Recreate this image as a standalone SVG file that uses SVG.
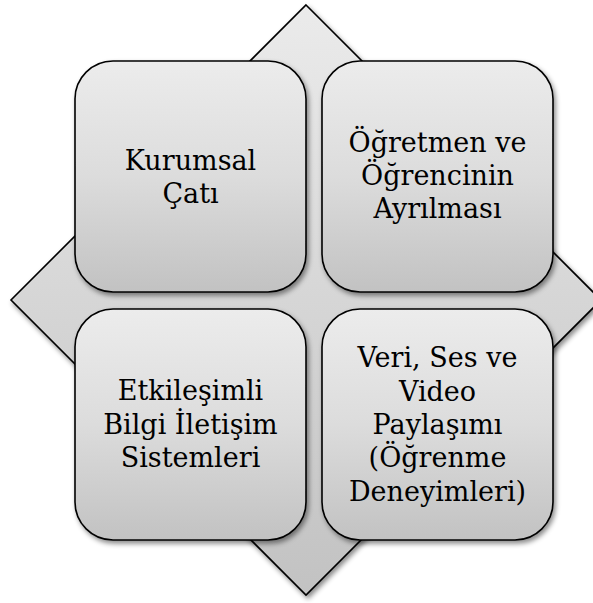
<svg xmlns="http://www.w3.org/2000/svg" width="593" height="603" viewBox="0 0 593 603">
  <defs>
    <linearGradient id="gBox" x1="0" y1="0" x2="0" y2="1">
      <stop offset="0" stop-color="#ececec"/>
      <stop offset="0.5" stop-color="#dcdcdc"/>
      <stop offset="1" stop-color="#c2c2c2"/>
    </linearGradient>
    <linearGradient id="gDia" x1="0" y1="0" x2="0" y2="1">
      <stop offset="0" stop-color="#ebebeb"/>
      <stop offset="0.5" stop-color="#d6d6d6"/>
      <stop offset="1" stop-color="#c2c2c2"/>
    </linearGradient>
    <filter id="shadow" x="-10%" y="-10%" width="125%" height="125%">
      <feDropShadow dx="2" dy="3" stdDeviation="2.5" flood-color="#000" flood-opacity="0.45"/>
    </filter>
  </defs>
  <style>
    .box { fill: url(#gBox); stroke: #000; stroke-width: 1.6; filter: url(#shadow); }
    .dia { fill: url(#gDia); stroke: #000; stroke-width: 1.6; filter: url(#shadow); }
    .lbl { font-family: "DejaVu Serif", "Liberation Serif", serif; font-size: 27px; fill: #000; text-anchor: middle; }
  </style>
  <rect width="593" height="603" fill="#ffffff"/>
  <g id="background">
    <polygon class="dia" points="306,5 601,300 306,595 11,300"/>
  </g>
  <g id="connectors"></g>
  <g id="node-kurumsal">
    <rect class="box" x="75" y="61" width="231" height="231" rx="38" ry="38"/>
    <text class="lbl" x="190.5"><tspan x="190.5" y="169.5">Kurumsal</tspan><tspan x="190.5" y="202.8">Çatı</tspan></text>
  </g>
  <g id="node-ogretmen">
    <rect class="box" x="322" y="61" width="231" height="231" rx="38" ry="38"/>
    <text class="lbl" x="437.5"><tspan x="437.5" y="151.7">Öğretmen ve</tspan><tspan x="437.5" y="185">Öğrencinin</tspan><tspan x="437.5" y="218.3">Ayrılması</tspan></text>
  </g>
  <g id="node-etkilesimli">
    <rect class="box" x="75" y="309" width="231" height="231" rx="38" ry="38"/>
    <text class="lbl" x="190.5"><tspan x="190.5" y="400.3">Etkileşimli</tspan><tspan x="190.5" y="433.6">Bilgi İletişim</tspan><tspan x="190.5" y="466.9">Sistemleri</tspan></text>
  </g>
  <g id="node-veri">
    <rect class="box" x="322" y="309" width="231" height="231" rx="38" ry="38"/>
    <text class="lbl" x="437.5"><tspan x="437.5" y="367.3">Veri, Ses ve</tspan><tspan x="437.5" y="400.6">Video</tspan><tspan x="437.5" y="433.9">Paylaşımı</tspan><tspan x="437.5" y="467.2">(Öğrenme</tspan><tspan x="437.5" y="500.5">Deneyimleri)</tspan></text>
  </g>
</svg>
